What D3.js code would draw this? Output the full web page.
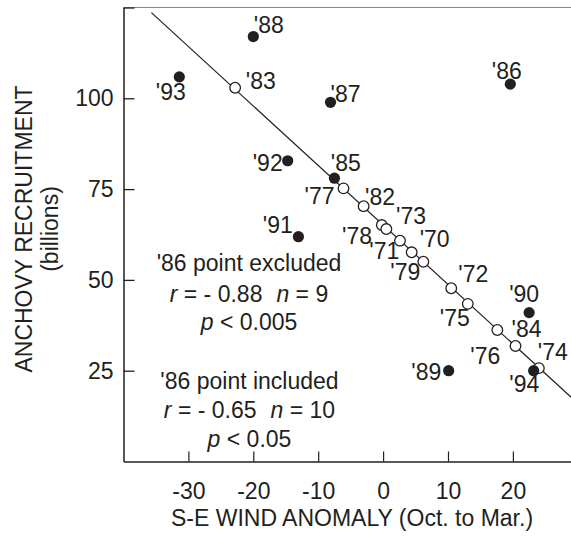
<!DOCTYPE html>
<html>
<head>
<meta charset="utf-8">
<script src="https://cdn.jsdelivr.net/npm/d3@7"></script>
<style>
  html, body { margin: 0; padding: 0; background: #fff; }
  svg { display: block; font-family: "Liberation Sans", Arial, Helvetica, sans-serif; }
  text { fill: #231f20; }
</style>
</head>
<body>
<svg id="chart" width="571" height="539"></svg>
<script>
// Observed years (filled dots): wind anomaly vs. recruitment
const obsYears    = ["'88", "'93", "'87", "'86", "'92", "'85", "'91", "'90", "'94", "'89"];
const obsWind     = [-20.0, -31.4, -8.1, 19.6, -14.7, -7.5, -13.05, 22.5, 23.2, 10.1];
const obsRecruit  = [117.0, 105.9, 98.9, 103.9, 82.8, 78.0, 61.9, 41.0, 25.0, 25.0];

// Years placed on the regression line (open circles)
const fitYears    = ["'83", "'77", "'82", "'78", "'73", "'71", "'70", "'79", "'72", "'75", "'76", "'84", "'74"];
const fitWind     = [-22.8, -6.1, -3.0, -0.2, 0.5, 2.6, 4.4, 6.2, 10.5, 13.05, 17.6, 20.4, 24.0];
const fitRecruit  = [102.9, 75.2, 70.3, 65.1, 64.0, 60.8, 57.6, 55.0, 47.7, 43.4, 36.2, 31.8, 25.7];

// Regression line end points [wind, recruitment]
const regressionLine = [[-35.7, 123.6], [30, 16.0]];

// Axis ticks
const xTicks = [-30, -20, -10, 0, 10, 20];
const xTickLabels = ["-30", "-20", "-10", "0", "10", "20"];
const yTicks = [25, 50, 75, 100, 125];
const yTickLabels = ["25", "50", "75", "100", ""];

// Statistics text blocks
const statsExcluded = ["'86 point excluded", "r = - 0.88", "n = 9", "p < 0.005"];
const statsIncluded = ["'86 point included", "r = - 0.65", "n = 10", "p < 0.05"];

// Year label placement around each mark: [anchor, dx, dy] in px
const labelLayout = {
  "'88": ["start", 0.5, -3.4], "'93": ["start", -23.5, 23.5], "'87": ["start", 0, 0],
  "'86": ["start", -18.5, -5], "'92": ["end", -5, 10], "'85": ["start", -3.6, -7.3],
  "'91": ["end", -5.6, -3.4], "'90": ["start", -20, -11], "'94": ["start", -24.3, 21],
  "'89": ["end", -7.3, 9.3],
  "'83": ["start", 10.7, 1], "'77": ["end", -9, 15.3], "'82": ["start", 1.4, -1],
  "'78": ["end", -9.7, 19.3], "'73": ["start", 9.7, -5], "'71": ["end", -0.7, 18.3],
  "'70": ["start", 8, -5.6], "'79": ["end", -3, 18.3], "'72": ["start", 7, -6.6],
  "'75": ["end", 2, 22], "'76": ["end", 3, 34], "'84": ["start", -4, -9.3],
  "'74": ["start", -1, -8.3]
};

const FONT = 23;
const ink = "#231f20";
const svg = d3.select("#chart");

const plotLeft = 123.5, plotTop = 7.5, plotBottom = 461.5;
const x = d3.scaleLinear().domain([-40, 30]).range([plotLeft, plotLeft + 70 * 6.49]);
const y = d3.scaleLinear().domain([0, 125]).range([plotBottom, plotTop]);

// Top frame line
svg.append("line")
  .attr("x1", plotLeft).attr("x2", 571)
  .attr("y1", plotTop).attr("y2", plotTop)
  .attr("stroke", "#8a8a8a").attr("stroke-width", 1.2);

// Bottom axis
const gx = svg.append("g").attr("transform", `translate(0,${plotBottom})`)
  .call(d3.axisBottom(x).tickValues(xTicks).tickSize(-10).tickSizeOuter(0).tickPadding(21)
    .tickFormat((d, i) => xTickLabels[i]));
gx.attr("font-family", null);
gx.select(".domain").attr("stroke", ink).attr("stroke-width", 1.5);
gx.selectAll(".tick line").attr("stroke", ink).attr("stroke-width", 1.2);
gx.selectAll(".tick text").attr("font-size", FONT).attr("fill", ink);

// Left axis
const gy = svg.append("g").attr("transform", `translate(${plotLeft},0)`)
  .call(d3.axisLeft(y).tickValues(yTicks).tickSize(-11).tickSizeOuter(0).tickPadding(10)
    .tickFormat((d, i) => yTickLabels[i]));
gy.attr("font-family", null);
gy.select(".domain").attr("stroke", ink).attr("stroke-width", 1.5);
gy.selectAll(".tick line").attr("stroke", ink).attr("stroke-width", 1.3);
gy.selectAll(".tick text").attr("font-size", FONT).attr("fill", ink);

// Axis titles
svg.append("text")
  .attr("x", 352).attr("y", 526)
  .attr("text-anchor", "middle").attr("font-size", FONT)
  .text("S-E WIND ANOMALY (Oct. to Mar.)");

svg.append("text")
  .attr("transform", "translate(32,229) rotate(-90)")
  .attr("text-anchor", "middle").attr("font-size", FONT)
  .text("ANCHOVY RECRUITMENT");
svg.append("text")
  .attr("transform", "translate(58,229) rotate(-90)")
  .attr("text-anchor", "middle").attr("font-size", FONT)
  .text("(billions)");

// Regression line
svg.append("path")
  .datum(regressionLine)
  .attr("d", d3.line().x(d => x(d[0])).y(d => y(d[1])))
  .attr("fill", "none").attr("stroke", ink).attr("stroke-width", 1.2);

// Open circles on the line
const fitData = fitYears.map((yr, i) => ({ yr, w: fitWind[i], r: fitRecruit[i] }));
svg.append("g").selectAll("circle").data(fitData).join("circle")
  .attr("cx", d => x(d.w)).attr("cy", d => y(d.r)).attr("r", 5.3)
  .attr("fill", "#fff").attr("stroke", ink).attr("stroke-width", 1.3);

// Filled dots for observed years
const obsData = obsYears.map((yr, i) => ({ yr, w: obsWind[i], r: obsRecruit[i] }));
svg.append("g").selectAll("circle").data(obsData).join("circle")
  .attr("cx", d => x(d.w)).attr("cy", d => y(d.r)).attr("r", 5.6)
  .attr("fill", ink);

// Year labels
svg.append("g").selectAll("text").data(obsData.concat(fitData)).join("text")
  .attr("x", d => x(d.w) + labelLayout[d.yr][1])
  .attr("y", d => y(d.r) + labelLayout[d.yr][2])
  .attr("text-anchor", d => labelLayout[d.yr][0])
  .attr("font-size", FONT)
  .text(d => d.yr);

// Statistics blocks
function statsBlock(lines, cx, baselines) {
  const g = svg.append("g").attr("font-size", FONT).attr("text-anchor", "middle");
  g.append("text").attr("x", cx).attr("y", baselines[0]).text(lines[0]);
  const t = g.append("text").attr("x", cx).attr("y", baselines[1]);
  t.append("tspan").attr("font-style", "italic").text(lines[1].slice(0, 1));
  t.append("tspan").text(lines[1].slice(1));
  t.append("tspan").attr("dx", 14).attr("font-style", "italic").text(lines[2].slice(0, 1));
  t.append("tspan").text(lines[2].slice(1));
  const p = g.append("text").attr("x", cx).attr("y", baselines[2]);
  p.append("tspan").attr("font-style", "italic").text(lines[3].slice(0, 1));
  p.append("tspan").text(lines[3].slice(1));
}
statsBlock(statsExcluded, 249, [270.7, 301.7, 330]);
statsBlock(statsIncluded, 249.5, [389.3, 418.3, 446.7]);
</script>
</body>
</html>
